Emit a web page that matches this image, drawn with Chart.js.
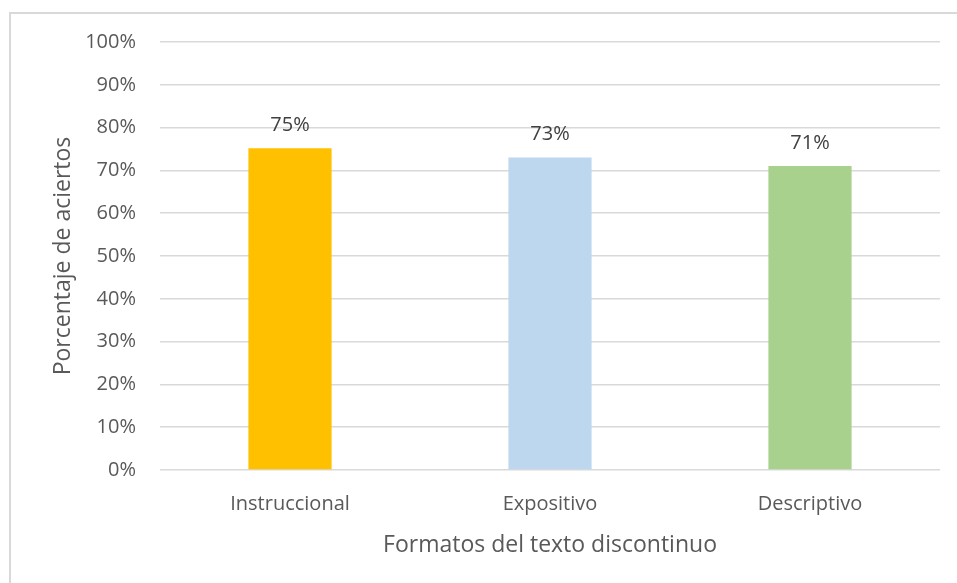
<!DOCTYPE html>
<html>
<head>
<meta charset="utf-8">
<script src="https://cdn.jsdelivr.net/npm/chart.js@4"></script>
<style>
  html, body { margin: 0; padding: 0; background: #fff; }
  #marco { position: absolute; left: 9px; top: 12px; width: 960px; height: 600px; border: 2px solid #d9d9d9; }
  #lienzo { position: absolute; left: 0; top: 0; width: 957px; height: 583px; }
</style>
</head>
<body>
<div id="marco"></div>
<div id="lienzo"><canvas id="grafico"></canvas></div>
<script>
// Datos
var categorias = ['Instruccional', 'Expositivo', 'Descriptivo'];
var porcentajes = [75.2, 73, 71];
var etiquetas = ['75%', '73%', '71%'];
var colores = ['#FFC000', '#BDD7EE', '#A9D18E'];

var fuente = "'Open Sans', sans-serif";

// Escribe el porcentaje encima de cada barra
var etiquetasBarras = {
    id: 'etiquetasBarras',
    afterDatasetsDraw: function(chart) {
        var ctx = chart.ctx;
        var meta = chart.getDatasetMeta(0);
        ctx.save();
        ctx.font = '20px ' + fuente;
        ctx.fillStyle = '#404040';
        ctx.textAlign = 'center';
        ctx.textBaseline = 'middle';
        meta.data.forEach(function(barra, i) {
            ctx.fillText(etiquetas[i], barra.x, barra.y - 23);
        });
        ctx.restore();
    }
};

var ctx = document.getElementById('grafico').getContext('2d');
var miGrafico = new Chart(ctx, {
    type: 'bar',
    data: {
        labels: categorias,
        datasets: [{
            data: porcentajes,
            backgroundColor: colores,
            borderWidth: 0,
            categoryPercentage: 1,
            barPercentage: 0.32
        }]
    },
    options: {
        responsive: true,
        maintainAspectRatio: false,
        animation: false,
        layout: { padding: { left: 0, right: 17, top: 42, bottom: 0 } },
        plugins: {
            legend: { display: false },
            tooltip: { enabled: false }
        },
        scales: {
            x: {
                afterFit: function(s) { s.height = 113; },
                grid: { display: false, drawTicks: false },
                border: { display: false },
                ticks: { color: '#595959', font: { family: fuente, size: 20 }, padding: 22 },
                title: {
                    display: true,
                    text: 'Formatos del texto discontinuo',
                    color: '#595959',
                    font: { family: fuente, size: 23 },
                    padding: { top: 0, bottom: 24 }
                }
            },
            y: {
                min: 0,
                max: 100,
                afterFit: function(s) { s.width = 160; },
                grid: { color: '#d9d9d9', lineWidth: 1.5, drawTicks: false },
                border: { display: false },
                ticks: {
                    stepSize: 10,
                    color: '#595959',
                    font: { family: fuente, size: 20 },
                    padding: 24,
                    callback: function(v) { return v + '%'; }
                },
                title: {
                    display: true,
                    text: 'Porcentaje de aciertos',
                    color: '#595959',
                    font: { family: fuente, size: 23 },
                    padding: { top: 50, bottom: 0 }
                }
            }
        }
    },
    plugins: [etiquetasBarras]
});
</script>
</body>
</html>
